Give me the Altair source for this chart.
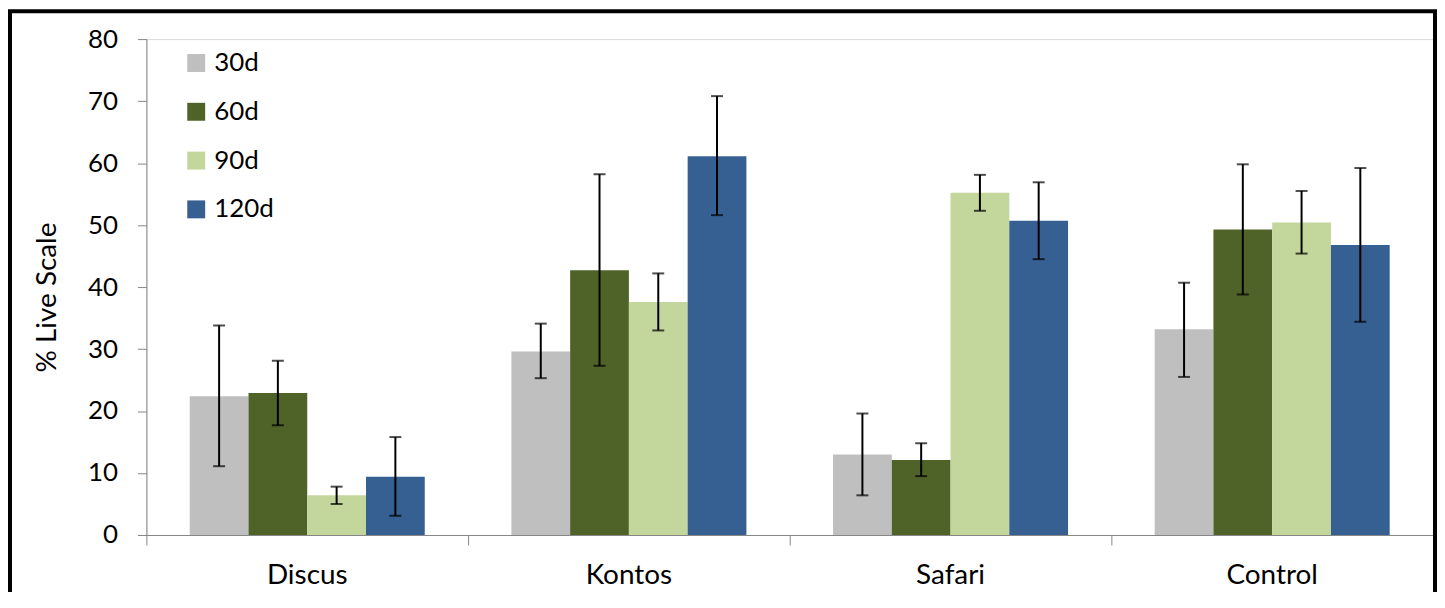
import altair as alt
import pandas as pd

treatments = ["Discus", "Kontos", "Safari", "Control"]
periods = ["30d", "60d", "90d", "120d"]
colors = ["#BFBFBF", "#4F6228", "#C3D69B", "#376092"]

mean_30 = [22.4, 29.6, 13.0, 33.2]
mean_60 = [22.9, 42.7, 12.1, 49.3]
mean_90 = [6.4, 37.6, 55.2, 50.4]
mean_120 = [9.4, 61.1, 50.7, 46.8]

hi_30 = [33.8, 34.1, 19.6, 40.7]
hi_60 = [28.1, 58.2, 14.8, 59.8]
hi_90 = [7.8, 42.2, 58.1, 55.5]
hi_120 = [15.8, 70.8, 56.9, 59.2]

lo_30 = [11.1, 25.3, 6.4, 25.5]
lo_60 = [17.7, 27.3, 9.5, 38.8]
lo_90 = [5.0, 33.0, 52.3, 45.4]
lo_120 = [3.1, 51.6, 44.5, 34.4]

means = [mean_30, mean_60, mean_90, mean_120]
his = [hi_30, hi_60, hi_90, hi_120]
los = [lo_30, lo_60, lo_90, lo_120]

rows = []
for pi, p in enumerate(periods):
    for ti, t in enumerate(treatments):
        rows.append({"treatment": t, "period": p, "value": means[pi][ti],
                     "lo": los[pi][ti], "hi": his[pi][ti]})
df = pd.DataFrame(rows)

FONT = "Lato"
GRAY = "#868686"
W, H = 1292, 498

x_enc = alt.X("treatment:N", sort=treatments,
              scale=alt.Scale(paddingInner=0, paddingOuter=0),
              axis=alt.Axis(title=None, labelAngle=0, labelFont=FONT, labelFontSize=28,
                            labelColor="black", labelPadding=17, tickSize=10,
                            tickColor=GRAY, domainColor=GRAY, bandPosition=0,
                            grid=False))
xo_enc = alt.XOffset("period:N", sort=periods,
                     scale=alt.Scale(paddingInner=0, paddingOuter=0.7373))

bars = alt.Chart(df).mark_bar().encode(
    x=x_enc,
    xOffset=xo_enc,
    y=alt.Y("value:Q", scale=alt.Scale(domain=[0, 80], nice=False),
            axis=alt.Axis(title="% Live Scale", values=list(range(0, 81, 10)),
                          labelFont=FONT, labelFontSize=26, labelColor="black",
                          labelPadding=20, tickSize=9, tickColor=GRAY,
                          domainColor=GRAY, grid=False,
                          titleFont=FONT, titleFontSize=28, titleFontWeight="normal",
                          titleColor="black", titleX=-91, titleY=259,
                          titleBaseline="alphabetic", titleAlign="center")),
    color=alt.Color("period:N", sort=periods,
                    scale=alt.Scale(domain=periods, range=colors),
                    legend=alt.Legend(title=None, orient="none", legendX=37, legendY=11,
                                      symbolType="square", symbolSize=324,
                                      symbolStrokeWidth=0, labelFont=FONT,
                                      labelFontSize=26, labelColor="black",
                                      labelOffset=5, rowPadding=23)),
)

rules = alt.Chart(df).mark_rule(color="black", strokeWidth=2).encode(
    x=alt.X("treatment:N", sort=treatments),
    xOffset=alt.XOffset("period:N", sort=periods),
    y="lo:Q",
    y2="hi:Q",
)

caps_hi = alt.Chart(df).mark_tick(color="black", thickness=2, size=12).encode(
    x=alt.X("treatment:N", sort=treatments),
    xOffset=alt.XOffset("period:N", sort=periods),
    y="hi:Q",
)
caps_lo = alt.Chart(df).mark_tick(color="black", thickness=2, size=12).encode(
    x=alt.X("treatment:N", sort=treatments),
    xOffset=alt.XOffset("period:N", sort=periods),
    y="lo:Q",
)

frame = alt.Chart(alt.Data(values=[{"f": 1}])).mark_rect(
    fillOpacity=0, stroke="black", strokeWidth=4).encode(
    x=alt.value(-137), x2=alt.value(1294), y=alt.value(-28), y2=alt.value(640))

chart = alt.layer(bars, rules, caps_hi, caps_lo, frame).properties(
    width=W, height=H,
    autosize=alt.AutoSizeParams(type="none"),
    padding={"left": 139, "top": 30, "right": 4, "bottom": 56},
).configure_view(stroke=None).configure(background="white")

chart.save("out.html", embed_options={"renderer": "svg", "actions": False})
